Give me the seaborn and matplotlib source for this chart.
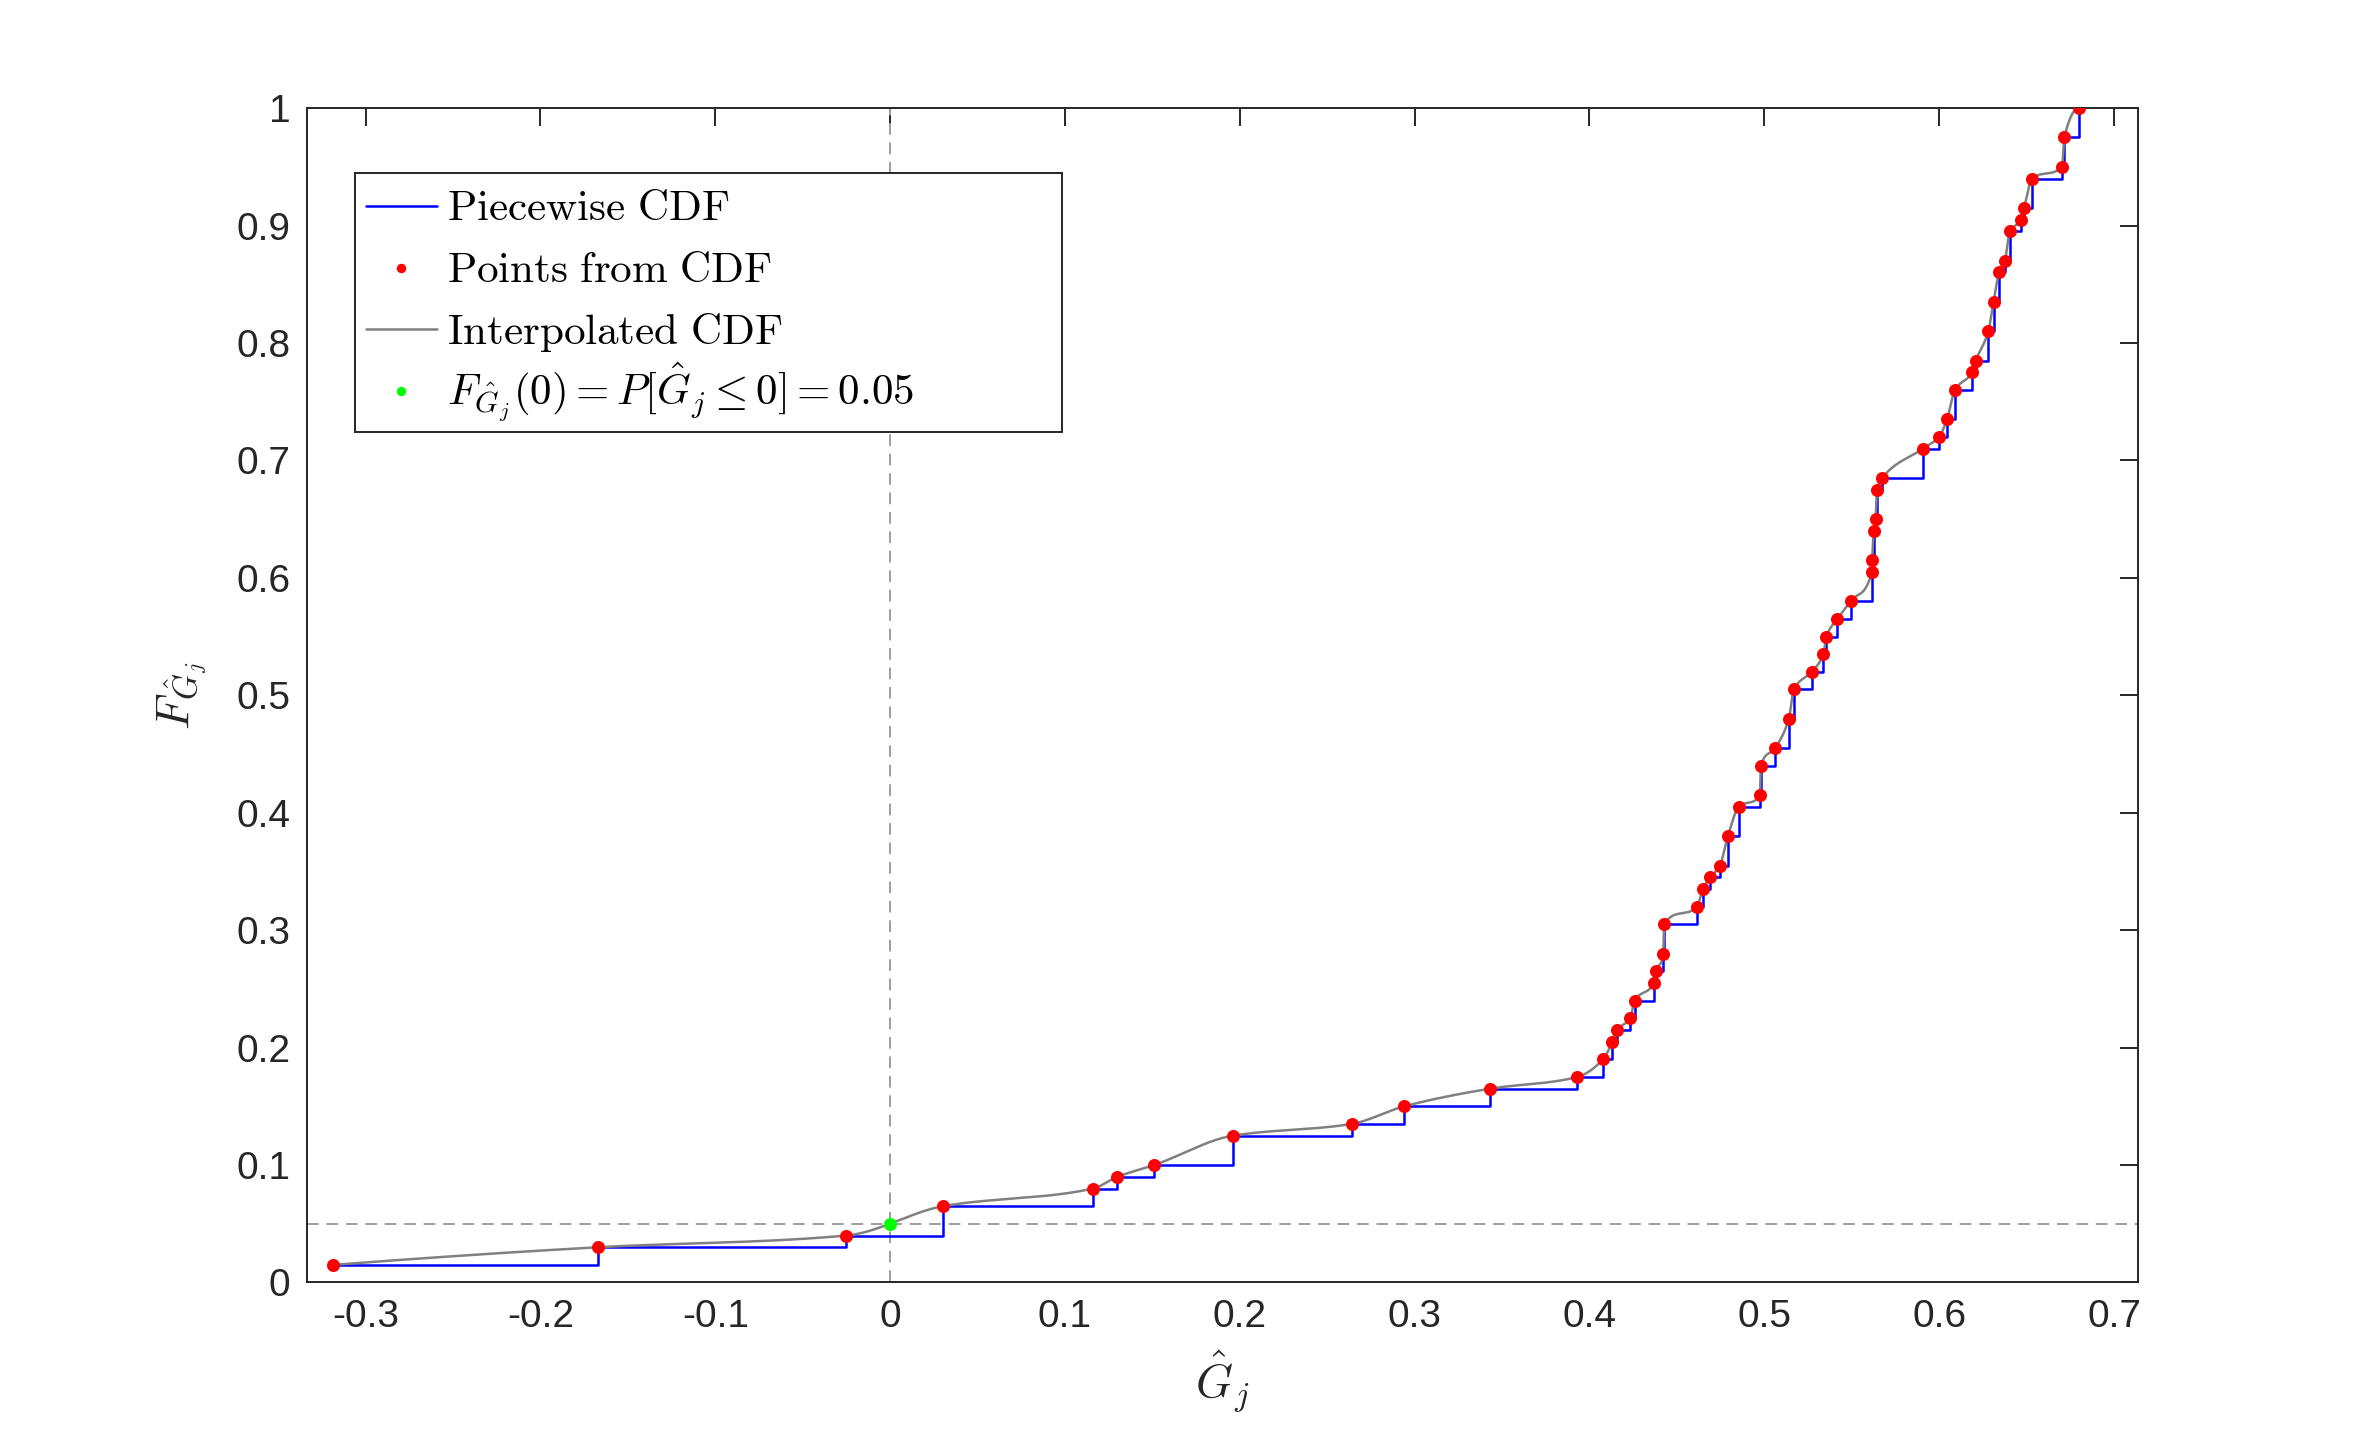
import numpy as np
import pandas as pd
import matplotlib
matplotlib.use('Agg')
import matplotlib.pyplot as plt
import seaborn as sns
from matplotlib.lines import Line2D
from matplotlib.patches import Rectangle
from matplotlib.ticker import FuncFormatter

# points read from the empirical CDF
g_hat = [-0.3185, -0.167, -0.025, 0.0304, 0.116, 0.130, 0.151, 0.196, 0.264, 0.294,
         0.343, 0.393, 0.4077, 0.4131, 0.4157, 0.4233, 0.4258, 0.4367, 0.4378, 0.4423,
         0.4426, 0.4614, 0.4649, 0.4692, 0.4746, 0.4791, 0.4854, 0.4976, 0.498, 0.5062,
         0.514, 0.5169, 0.527, 0.5338, 0.5355, 0.5418, 0.5493, 0.5615, 0.5617, 0.5626,
         0.5636, 0.5645, 0.5674, 0.5906, 0.5999, 0.6045, 0.609, 0.6189, 0.621, 0.6281,
         0.6311, 0.6343, 0.6376, 0.6404, 0.6469, 0.6486, 0.6532, 0.6703, 0.6716, 0.68]
cdf = [0.015, 0.03, 0.04, 0.065, 0.08, 0.09, 0.1, 0.125, 0.135, 0.15,
       0.165, 0.175, 0.19, 0.205, 0.215, 0.225, 0.24, 0.255, 0.265, 0.28,
       0.305, 0.32, 0.335, 0.345, 0.355, 0.38, 0.405, 0.415, 0.44, 0.455,
       0.48, 0.505, 0.52, 0.535, 0.55, 0.565, 0.58, 0.605, 0.615, 0.64,
       0.65, 0.675, 0.685, 0.71, 0.72, 0.735, 0.76, 0.775, 0.785, 0.81,
       0.835, 0.86, 0.87, 0.895, 0.905, 0.915, 0.94, 0.95, 0.975, 1.0]
g_zero = [0.0]
cdf_zero = [0.05]
legend_labels = [r'$\mathrm{Piecewise\ CDF}$',
                 r'$\mathrm{Points\ from\ CDF}$',
                 r'$\mathrm{Interpolated\ CDF}$',
                 r'$F_{\hat{G}_j}(0)=P[\hat{G}_j\leq0]=0.05$']


def pchip(x, y, xs):
    # shape preserving piecewise cubic (Fritsch-Carlson), like matlab pchip
    x = np.asarray(x, float)
    y = np.asarray(y, float)
    h = np.diff(x)
    delta = np.diff(y) / h
    n = len(x)
    d = np.zeros(n)
    for k in range(1, n - 1):
        if delta[k - 1] * delta[k] > 0:
            w1 = 2 * h[k] + h[k - 1]
            w2 = h[k] + 2 * h[k - 1]
            d[k] = (w1 + w2) / (w1 / delta[k - 1] + w2 / delta[k])

    def end_slope(h0, h1, d0, d1):
        s = ((2 * h0 + h1) * d0 - h0 * d1) / (h0 + h1)
        if np.sign(s) != np.sign(d0):
            s = 0.0
        elif np.sign(d0) != np.sign(d1) and abs(s) > abs(3 * d0):
            s = 3 * d0
        return s

    d[0] = end_slope(h[0], h[1], delta[0], delta[1])
    d[-1] = end_slope(h[-1], h[-2], delta[-1], delta[-2])
    idx = np.clip(np.searchsorted(x, xs) - 1, 0, n - 2)
    t = (xs - x[idx]) / h[idx]
    h00 = 2 * t ** 3 - 3 * t ** 2 + 1
    h10 = t ** 3 - 2 * t ** 2 + t
    h01 = -2 * t ** 3 + 3 * t ** 2
    h11 = t ** 3 - t ** 2
    return (h00 * y[idx] + h10 * h[idx] * d[idx]
            + h01 * y[idx + 1] + h11 * h[idx] * d[idx + 1])


pts = pd.DataFrame({"g": g_hat, "F": cdf})
xs = np.linspace(g_hat[0], g_hat[-1], 3000)
smooth = pd.DataFrame({"g": xs, "F": pchip(g_hat, cdf, xs)})
zero_df = pd.DataFrame({"g": g_zero, "F": cdf_zero})

sns.set_theme(style="white")
plt.rcParams['font.family'] = ['Liberation Sans', 'DejaVu Sans']
plt.rcParams['mathtext.fontset'] = 'cm'
plt.rcParams['axes.unicode_minus'] = False

fig = plt.figure(figsize=(11.81, 7.205), dpi=200)
ax = fig.add_axes([0.13, 0.11, 0.775, 0.815])

ax.axvline(0, color='0.62', ls=(0, (6, 4)), lw=0.7, zorder=1)
ax.axhline(0.05, color='0.62', ls=(0, (6, 4)), lw=0.7, zorder=1)

sns.lineplot(data=pts, x="g", y="F", drawstyle='steps-post', color='#0000ff', lw=0.9,
             estimator=None, sort=False, ax=ax, zorder=2)
sns.scatterplot(data=pts, x="g", y="F", color='#ff0000', s=22, linewidth=0, ax=ax, zorder=4)
sns.lineplot(data=smooth, x="g", y="F", color='0.5', lw=0.9, estimator=None, sort=False,
             ax=ax, zorder=3)
sns.scatterplot(data=zero_df, x="g", y="F", color='#00ff00', s=22, linewidth=0, ax=ax, zorder=5)

ax.set_xlim(-0.3335, 0.7135)
ax.set_ylim(0, 1)
ax.set_xticks(np.round(np.arange(-0.3, 0.71, 0.1), 1))
ax.set_yticks(np.round(np.arange(0, 1.01, 0.1), 1))
fmt = FuncFormatter(lambda v, p: f"{v:g}")
ax.xaxis.set_major_formatter(fmt)
ax.yaxis.set_major_formatter(fmt)
ax.tick_params(direction='in', top=True, right=True, length=6.5, width=0.7,
               labelsize=14, colors='0.15', pad=6)
for s in ax.spines.values():
    s.set_color('0.15')
    s.set_linewidth(0.7)

ax.set_xlabel(r'$\hat{G}_j$', fontsize=17, color='0.15', labelpad=5)
ax.set_ylabel(r'$F_{\hat{G}_j}$', fontsize=17, color='0.15', labelpad=10)

# matlab style legend: box wider than its text, rows evenly spaced
box = Rectangle((0.026, 0.7245), 0.3865, 0.2205, transform=ax.transAxes,
                facecolor='white', edgecolor='0.15', lw=0.7, zorder=6)
ax.add_patch(box)
row_y = [0.917, 0.864, 0.812, 0.759]
handles = [dict(color='#0000ff', lw=0.9, marker=None),
           dict(color='#ff0000', lw=0, marker='o'),
           dict(color='0.5', lw=0.9, marker=None),
           dict(color='#00ff00', lw=0, marker='o')]
for yy, lab, hd in zip(row_y, legend_labels, handles):
    if hd['marker'] is None:
        ax.add_line(Line2D([0.0322, 0.0708], [yy, yy], transform=ax.transAxes,
                           color=hd['color'], lw=hd['lw'], zorder=7))
    else:
        ax.add_line(Line2D([0.0511], [yy], transform=ax.transAxes, ls='none',
                           marker='o', markersize=3.4, markeredgewidth=0,
                           color=hd['color'], zorder=7))
    ax.text(0.0764, yy - 0.0125, lab, transform=ax.transAxes, fontsize=15.5,
            ha='left', va='baseline', color='black', zorder=7)

plt.savefig('out.png', dpi=200)
plt.close('all')
